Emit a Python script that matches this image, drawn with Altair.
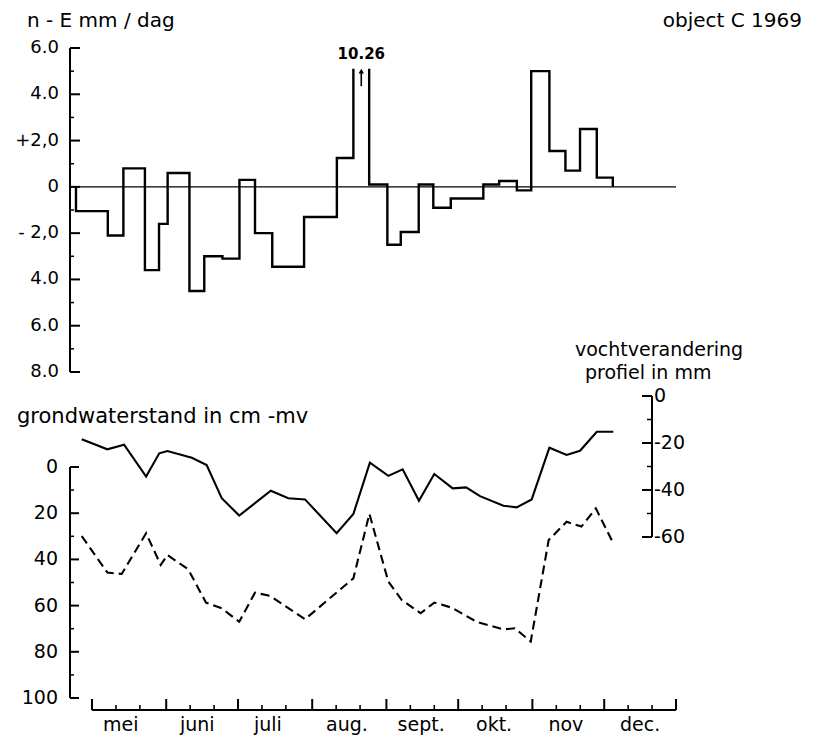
import altair as alt
import pandas as pd

# ---------------- data (x = day of year 1969) ----------------
# top panel: n - E (mm/dag), step intervals
ne_edges = [114.3, 127.6, 134.1, 143.1, 149.0, 152.6, 161.7, 167.9, 175.5, 182.6,
            189.1, 196.3, 209.6, 223.3, 230.2, 236.8, 244.4, 250.0, 257.5, 263.6,
            270.9, 284.5, 291.1, 298.5, 304.5, 312.1, 318.8, 324.9, 331.9, 338.6]
ne_values = [-1.05, -2.1, 0.8, -3.6, -1.6, 0.6, -4.5, -3.0, -3.1, 0.3,
             -2.0, -3.45, -1.3, 1.25, 10.26, 0.1, -2.5, -1.95, 0.1, -0.9,
             -0.5, 0.1, 0.25, -0.15, 5.0, 1.55, 0.7, 2.5, 0.4]
ne_peak_text = ["10.26"]

# bottom panel: grondwaterstand (cm -mv), dashed
gw_days = [116.7, 127.4, 133.4, 143.6, 149.7, 152.5, 161.2, 168.6, 175.2, 182.5,
           189.1, 195.4, 210.0, 230.2, 236.9, 244.8, 250.4, 258.3, 264.0, 271.3,
           281.7, 292.9, 297.7, 304.3, 311.8, 319.3, 325.5, 331.5, 338.8]
gw_cm = [29.9, 45.7, 46.3, 28.7, 42.4, 38.1, 44.3, 58.7, 61.2, 67.0,
         54.4, 55.8, 65.9, 48.2, 20.3, 49.6, 57.6, 63.3, 58.7, 60.9,
         67.0, 70.3, 69.8, 75.6, 31.6, 23.7, 25.8, 17.9, 33.0]

# bottom panel: vochtverandering profiel (mm), solid
mv_days = [116.7, 127.4, 134.4, 143.6, 149.1, 152.5, 162.7, 168.9, 175.2, 182.5,
           195.7, 203.0, 210.0, 223.2, 230.2, 237.1, 244.8, 250.8, 257.6, 264.0,
           271.7, 277.3, 283.1, 292.9, 298.4, 304.7, 312.1, 319.3, 324.9, 331.9, 338.8]
mv_mm = [-18.4, -22.7, -20.7, -34.3, -24.4, -23.4, -26.3, -29.4, -43.5, -50.9,
         -40.3, -43.5, -44.0, -58.4, -50.2, -28.4, -34.0, -31.2, -44.6, -33.2,
         -39.3, -38.9, -42.6, -46.7, -47.4, -44.0, -22.0, -25.1, -23.3, -15.2, -15.2]

months = ["mei", "juni", "juli", "aug.", "sept.", "okt.", "nov", "dec."]
month_label_day = [133, 165, 194.5, 227.5, 258.5, 289, 319, 350]
month_start_day = [121, 152, 182, 213, 244, 274, 305, 335, 365]

top_major = [6, 4, 2, 0, -2, -4, -6, -8]
top_major_text = ["6.0", "4.0", "+2,0", "0", "- 2,0", "4.0", "6.0", "8.0"]
top_minor = [5, 3, 1, -1, -3, -5, -7]
gw_major = [0, 20, 40, 60, 80, 100]
gw_major_text = ["0", "20", "40", "60", "80", "100"]
gw_minor = [10, 30, 50, 70, 90]
mv_major = [0, -20, -40, -60]
mv_major_text = ["0", "-20", "-40", "-60"]
mv_minor = [-10, -30, -50]

# ---------------- layout ----------------
W, H = 606, 662
FONT = "DejaVu Sans"
x_dom = [111.8, 365.0]
xs = alt.Scale(domain=x_dom, nice=False, zero=False)


def lin_dom(va, pa, vb, pb):
    s = (vb - va) / (pb - pa)
    return [va + (H - pa) * s, va + (0 - pa) * s]


top_scale = alt.Scale(domain=lin_dom(6, 0, -8, 324), nice=False, zero=False)
gw_scale = alt.Scale(domain=lin_dom(0, 419, 100, 650), nice=False, zero=False)
mv_scale = alt.Scale(domain=lin_dom(0, 348, -60, 489), nice=False, zero=False)


def X(f):
    return alt.X(f, type="quantitative", scale=xs, axis=None)


def Y(f, sc):
    return alt.Y(f, type="quantitative", scale=sc, axis=None)


# ---------------- top panel ----------------
clip_top = 5.1
rows = []
seg = 0
rows.append((ne_edges[0], 0.0, seg))
for i, v in enumerate(ne_values):
    a, b = ne_edges[i], ne_edges[i + 1]
    if v > clip_top:
        rows.append((a, clip_top, seg))
        seg += 1
        rows.append((b, clip_top, seg))
        peak_mid = (a + b) / 2
    else:
        rows.append((a, v, seg))
        rows.append((b, v, seg))
rows.append((ne_edges[-1], 0.0, seg))
step_df = pd.DataFrame(rows, columns=["d", "v", "seg"])
step_df["o"] = range(len(step_df))

step = alt.Chart(step_df).mark_line(color="black", strokeWidth=2.4, strokeJoin="miter").encode(
    x=X("d"), y=Y("v", top_scale), detail="seg:N", order="o:Q")

zero_line = alt.Chart(pd.DataFrame({"a": [x_dom[0]], "b": [365.0], "v": [0]})).mark_rule(
    color="black", strokeWidth=1.3).encode(x=X("a"), x2="b", y=Y("v", top_scale))

top_axis = alt.Chart(pd.DataFrame({"a": [top_major[0]], "b": [top_major[-1]]})).mark_rule(
    color="black", strokeWidth=2).encode(x=alt.value(0), y=Y("a", top_scale), y2="b")
top_tmaj = alt.Chart(pd.DataFrame({"v": top_major})).mark_rule(color="black", strokeWidth=2).encode(
    x=alt.value(0), x2=alt.value(10), y=Y("v", top_scale))
top_tmin = alt.Chart(pd.DataFrame({"v": top_minor})).mark_rule(color="black", strokeWidth=1.5).encode(
    x=alt.value(0), x2=alt.value(4), y=Y("v", top_scale))
top_lab = alt.Chart(pd.DataFrame({"v": top_major, "t": top_major_text})).mark_text(
    align="right", baseline="middle", font=FONT, fontSize=18, color="black").encode(
    x=alt.value(-11), y=Y("v", top_scale), text="t:N")

peak_df = pd.DataFrame({"d": [peak_mid], "lo": [4.35], "hi": [5.0], "head": [5.0], "tv": [5.72],
                        "t": ne_peak_text})
arrow_shaft = alt.Chart(peak_df).mark_rule(color="black", strokeWidth=1.6).encode(
    x=X("d"), y=Y("lo", top_scale), y2="hi")
arrow_head = alt.Chart(peak_df).mark_point(shape="triangle-up", filled=True, color="black", size=30,
                                           opacity=1).encode(x=X("d"), y=Y("head", top_scale))
peak_lab = alt.Chart(peak_df).mark_text(font=FONT, fontSize=15, fontWeight="bold", color="black",
                                        baseline="middle").encode(
    x=X("d"), y=Y("tv", top_scale), text="t:N")

title_top = alt.Chart(pd.DataFrame({"t": ["n - E  mm / dag"]})).mark_text(
    align="left", baseline="middle", font=FONT, fontSize=20, color="black").encode(
    x=alt.value(-43), y=alt.value(-27), text="t:N")
title_obj = alt.Chart(pd.DataFrame({"t": ["object  C  1969"]})).mark_text(
    align="right", baseline="middle", font=FONT, fontSize=20, color="black").encode(
    x=alt.value(732), y=alt.value(-27), text="t:N")

top = alt.layer(zero_line, step, top_axis, top_tmaj, top_tmin, top_lab,
                arrow_shaft, arrow_head, peak_lab, title_top, title_obj)

# ---------------- groundwater (left axis, dashed) ----------------
gw_df = pd.DataFrame({"d": gw_days, "cm": gw_cm})
gw_line = alt.Chart(gw_df).mark_line(color="black", strokeWidth=2.1, strokeDash=[9, 5]).encode(
    x=X("d"), y=Y("cm", gw_scale))
gw_axis = alt.Chart(pd.DataFrame({"a": [gw_major[0]], "b": [gw_major[-1]]})).mark_rule(
    color="black", strokeWidth=2).encode(x=alt.value(0), y=Y("a", gw_scale), y2="b")
gw_tmaj = alt.Chart(pd.DataFrame({"v": gw_major})).mark_rule(color="black", strokeWidth=2).encode(
    x=alt.value(0), x2=alt.value(9), y=Y("v", gw_scale))
gw_tmin = alt.Chart(pd.DataFrame({"v": gw_minor})).mark_rule(color="black", strokeWidth=1.5).encode(
    x=alt.value(0), x2=alt.value(4), y=Y("v", gw_scale))
gw_lab = alt.Chart(pd.DataFrame({"v": gw_major, "t": gw_major_text})).mark_text(
    align="right", baseline="middle", font=FONT, fontSize=19, color="black").encode(
    x=alt.value(-12), y=Y("v", gw_scale), text="t:N")
gw_title = alt.Chart(pd.DataFrame({"t": ["grondwaterstand in cm -mv"]})).mark_text(
    align="left", baseline="middle", font=FONT, fontSize=21, color="black").encode(
    x=alt.value(-53), y=alt.value(369), text="t:N")

# x axis (months)
minor_days = [m + k for m in month_start_day[:-1] for k in (10, 20)]
x_axis = alt.Chart(pd.DataFrame({"a": [month_start_day[0]], "b": [month_start_day[-1]]})).mark_rule(
    color="black", strokeWidth=2).encode(x=X("a"), x2="b", y=alt.value(H))
x_tmaj = alt.Chart(pd.DataFrame({"d": month_start_day})).mark_rule(color="black", strokeWidth=2).encode(
    x=X("d"), y=alt.value(H), y2=alt.value(H - 11))
x_tmin = alt.Chart(pd.DataFrame({"d": minor_days})).mark_rule(color="black", strokeWidth=1.6).encode(
    x=X("d"), y=alt.value(H), y2=alt.value(H - 5))
x_lab = alt.Chart(pd.DataFrame({"d": month_label_day, "t": months})).mark_text(
    baseline="middle", font=FONT, fontSize=19, color="black").encode(
    x=X("d"), y=alt.value(H + 15), text="t:N")

gw = alt.layer(gw_line, gw_axis, gw_tmaj, gw_tmin, gw_lab, gw_title, x_axis, x_tmaj, x_tmin, x_lab)

# ---------------- moisture change (right axis, solid) ----------------
RX = 582
mv_df = pd.DataFrame({"d": mv_days, "mm": mv_mm})
mv_line = alt.Chart(mv_df).mark_line(color="black", strokeWidth=2.1).encode(
    x=X("d"), y=Y("mm", mv_scale))
mv_axis = alt.Chart(pd.DataFrame({"a": [mv_major[0]], "b": [mv_major[-1]]})).mark_rule(
    color="black", strokeWidth=2).encode(x=alt.value(RX), y=Y("a", mv_scale), y2="b")
mv_tmaj = alt.Chart(pd.DataFrame({"v": mv_major})).mark_rule(color="black", strokeWidth=2).encode(
    x=alt.value(RX - 10), x2=alt.value(RX), y=Y("v", mv_scale))
mv_tmin = alt.Chart(pd.DataFrame({"v": mv_minor})).mark_rule(color="black", strokeWidth=1.5).encode(
    x=alt.value(RX - 5), x2=alt.value(RX), y=Y("v", mv_scale))
mv_lab = alt.Chart(pd.DataFrame({"v": mv_major, "t": mv_major_text})).mark_text(
    align="left", baseline="middle", font=FONT, fontSize=19, color="black").encode(
    x=alt.value(RX + 2), y=Y("v", mv_scale), text="t:N")
mv_title1 = alt.Chart(pd.DataFrame({"t": ["vochtverandering"]})).mark_text(
    align="left", baseline="middle", font=FONT, fontSize=19, color="black").encode(
    x=alt.value(505), y=alt.value(302), text="t:N")
mv_title2 = alt.Chart(pd.DataFrame({"t": ["profiel in mm"]})).mark_text(
    align="left", baseline="middle", font=FONT, fontSize=19, color="black").encode(
    x=alt.value(515), y=alt.value(325), text="t:N")

mv = alt.layer(mv_line, mv_axis, mv_tmaj, mv_tmin, mv_lab, mv_title1, mv_title2)

chart = alt.layer(top, gw, mv).resolve_scale(y="independent").properties(
    width=W, height=H,
    autosize=alt.AutoSizeParams(type="none"),
    padding={"left": 62, "top": 40, "right": 129, "bottom": 28},
    background="white",
).configure_view(stroke=None)

chart.save("out.html", embed_options={"renderer": "svg", "actions": False})
